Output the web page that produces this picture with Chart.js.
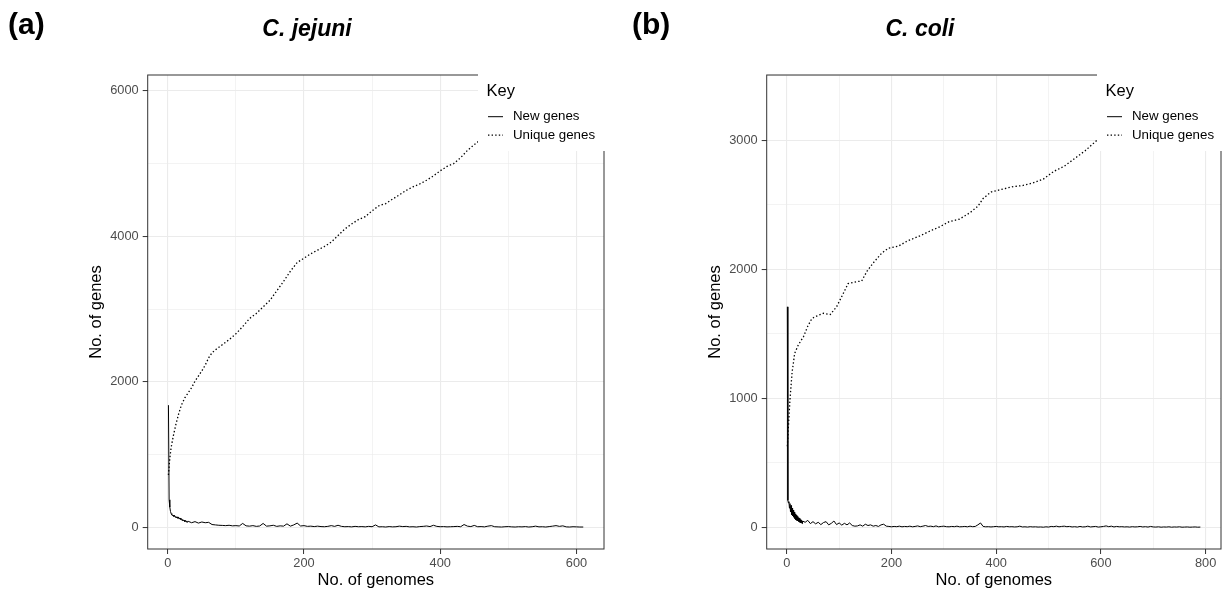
<!DOCTYPE html>
<html><head><meta charset="utf-8">
<script src="https://cdn.jsdelivr.net/npm/chart.js@4.4.1/dist/chart.umd.min.js"></script>
<style>
html,body{margin:0;padding:0;background:#fff;}
#wrap{position:relative;width:1223px;height:592px;overflow:hidden;background:#fff;}
canvas{position:absolute;top:0;}
</style></head><body>
<div id="wrap">
<canvas id="ca" width="611" height="592" style="left:0"></canvas>
<canvas id="cb" width="612" height="592" style="left:611px"></canvas>
</div>
<script>
// ---------- Panel (a) C. jejuni ----------
const aPanelTag = '(a)';
const aSpecies = 'C. jejuni';
const aNewGenomes = [1,2,3,4,5,6,7,8,9,10,11,12,13,14,15,16,17,18,19,20,21,22,23,24,25,26,27,28,29,30,
35,40,45,50,55,60,65,70,75,80,85,90,95,100,105,110,115,120,125,130,135,140,145,150,155,160,165,170,175,180,
185,190,195,200,205,210,215,220,225,230,235,240,245,250,255,260,265,270,275,280,285,290,295,300,305,310,315,320,325,330,
335,340,345,350,355,360,365,370,375,380,385,390,395,400,405,410,415,420,425,430,435,440,445,450,455,460,465,470,475,480,
485,490,495,500,505,510,515,520,525,530,535,540,545,550,555,560,565,570,575,580,585,590,595,600,605,610];
const aNewGenes = [1680,380,280,220,190,175,160,170,150,165,140,150,130,145,125,140,115,130,110,120,95,110,90,100,80,95,75,90,70,85,
65,80,60,75,65,70,40,35,30,28,25,30,22,25,20,55,22,18,25,15,20,55,18,22,30,15,22,18,50,18,
35,60,20,25,15,18,12,18,12,10,15,25,15,30,15,10,12,8,15,10,12,8,15,10,35,8,10,6,12,8,
10,18,12,15,8,10,6,12,15,20,12,30,15,10,12,8,10,12,15,10,40,18,12,28,10,12,8,18,25,10,
8,6,10,12,8,6,10,8,12,6,10,18,8,10,6,12,18,25,15,22,8,6,10,8,6,6];
const aUniqueGenomes = [1,3,5,8,12,16,20,25,30,35,40,45,50,55,60,65,70,80,90,100,110,120,130,140,150,160,170,180,190,200,
210,220,230,240,250,260,270,280,290,300,310,320,330,340,350,360,370,380,390,400,410,420,430,440,450,460,480,500,520,540,560,580,600,610];
const aUniqueGenes = [720,950,1100,1250,1420,1560,1680,1780,1850,1920,2010,2080,2150,2230,2330,2400,2440,2510,2580,2660,2760,2870,2940,3030,3120,3250,3380,3520,3640,3700,
3760,3810,3860,3920,4010,4100,4170,4230,4270,4350,4420,4450,4510,4570,4630,4680,4720,4770,4830,4900,4960,5000,5080,5180,5260,5330,5440,5540,5620,5700,5770,5840,5900,5920];
const aXTicks = [0,100,200,300,400,500,600];
const aXLabels = ['0','','200','','400','','600'];
const aYTicks = [0,1000,2000,3000,4000,5000,6000];
const aYLabels = ['0','','2000','','4000','','6000'];

// ---------- Panel (b) C. coli ----------
const bPanelTag = '(b)';
const bSpecies = 'C. coli';
const bNewGenomes = [1,2,3,4,5,6,7,8,9,10,11,12,13,14,15,16,17,18,19,20,21,22,23,24,25,26,27,28,29,30,
35,40,45,50,55,60,65,70,75,80,85,90,95,100,105,110,115,120,125,130,135,140,145,150,155,160,165,170,175,180,
185,190,195,200,205,210,215,220,225,230,235,240,245,250,255,260,265,270,275,280,285,290,295,300,305,310,315,320,325,330,
335,340,345,350,355,360,365,370,375,380,385,390,395,400,405,410,415,420,425,430,435,440,445,450,455,460,465,470,475,480,
485,490,495,500,505,510,515,520,525,530,535,540,545,550,555,560,565,570,575,580,585,590,595,600,605,610,615,620,625,630,
635,640,645,650,655,660,665,670,675,680,685,690,695,700,705,710,715,720,725,730,735,740,745,750,755,760,765,770,775,780,
785,790];
const bNewGenes = [1710,210,190,200,150,185,120,170,100,150,90,135,80,120,70,105,60,95,55,85,50,75,45,70,40,60,35,55,30,50,
40,55,30,45,28,40,22,38,45,20,32,50,22,35,18,32,20,35,15,10,12,20,10,25,15,20,10,15,8,20,
25,10,8,5,8,6,10,5,8,6,10,5,8,12,6,10,15,8,10,6,12,5,8,10,6,5,8,6,10,5,
6,8,5,10,6,8,20,35,8,5,6,4,6,8,5,6,4,8,5,6,4,5,10,4,5,3,6,4,5,3,
4,2,5,3,8,6,10,5,8,10,6,8,4,6,3,8,4,5,10,4,6,8,3,5,8,12,6,10,4,8,
5,6,4,5,3,6,4,5,8,4,6,3,8,4,3,5,2,4,3,5,2,4,3,5,2,3,4,2,3,4,
2,3];
const bUniqueGenomes = [1,3,6,10,15,22,32,40,48,58,70,83,95,108,117,133,143,153,165,181,194,213,230,254,275,292,310,330,350,365,
375,390,410,430,450,470,490,510,530,550,570,592,620,650,680,710,740,770,790];
const bUniqueGenes = [630,780,990,1200,1350,1415,1480,1560,1620,1640,1660,1650,1710,1815,1890,1905,1910,1985,2050,2125,2165,2180,2220,2260,2300,2330,2370,2390,2440,2490,
2550,2600,2620,2640,2650,2670,2700,2760,2800,2860,2920,3000,3060,3120,3170,3220,3270,3310,3340];
const bXTicks = [0,100,200,300,400,500,600,700,800];
const bXLabels = ['0','','200','','400','','600','','800'];
const bYTicks = [0,500,1000,1500,2000,2500,3000,3500];
const bYLabels = ['0','','1000','','2000','','3000',''];

const seriesLabels = ['New genes', 'Unique genes'];
const keyTitle = 'Key';
const xTitle = 'No. of genomes';
const yTitle = 'No. of genes';

const FONT = "'Liberation Sans', Arial, Helvetica, sans-serif";

function pts(xs, ys) {
  const n = Math.min(xs.length, ys.length);
  const out = [];
  for (let i = 0; i < n; i++) out.push({x: xs[i], y: ys[i]});
  return out;
}

const framePlugin = {
  id: 'panelFrame',
  afterDatasetsDraw(chart) {
    const {ctx, chartArea: a} = chart;
    ctx.save();
    ctx.strokeStyle = '#333333';
    ctx.lineWidth = 1;
    ctx.strokeRect(a.left, a.top, a.right - a.left, a.bottom - a.top);
    ctx.restore();
  }
};

const tagPlugin = {
  id: 'panelTag',
  afterDraw(chart, args, o) {
    const ctx = chart.ctx;
    ctx.save();
    ctx.fillStyle = '#000';
    ctx.font = 'bold 30px ' + FONT;
    ctx.textBaseline = 'middle';
    ctx.textAlign = 'left';
    ctx.fillText(o.text, o.x, o.y);
    ctx.restore();
  }
};

const keyPlugin = {
  id: 'keyBox',
  afterDraw(chart, args, o) {
    const {ctx, chartArea: a} = chart;
    const x0 = a.right - o.inset;
    ctx.save();
    ctx.fillStyle = '#ffffff';
    ctx.fillRect(x0, a.top - 2, chart.width - x0 + 2, 152 - a.top + 1);
    ctx.fillStyle = '#000';
    ctx.textBaseline = 'middle';
    ctx.textAlign = 'left';
    ctx.font = '16.5px ' + FONT;
    ctx.fillText(o.title, x0 + 8.5, 91.7);
    ctx.font = '13.3px ' + FONT;
    const rows = [116.7, 135.2];
    chart.data.datasets.forEach((ds, i) => {
      const y = rows[i];
      ctx.save();
      ctx.strokeStyle = ds.borderColor;
      ctx.lineWidth = ds.borderWidth;
      ctx.setLineDash(ds.borderDash || []);
      ctx.beginPath();
      ctx.moveTo(x0 + 10, y);
      ctx.lineTo(x0 + 25, y);
      ctx.stroke();
      ctx.restore();
      ctx.fillText(ds.label, x0 + 35, y);
    });
    ctx.restore();
  }
};

function labelFor(ticks, labels, v) {
  const i = ticks.indexOf(v);
  return i >= 0 ? labels[i] : '';
}

function makePanel(id, p) {
  const isMajor = (ticks, labels, v) => labelFor(ticks, labels, v) !== '';
  return new Chart(document.getElementById(id), {
    type: 'line',
    data: {
      datasets: [
        {label: seriesLabels[0], data: pts(p.newX, p.newY), borderColor: '#000000', borderWidth: 1,
         pointRadius: 0, tension: 0, fill: false},
        {label: seriesLabels[1], data: pts(p.uniqX, p.uniqY), borderColor: '#000000', borderWidth: 1.3,
         borderDash: [1.4, 2.2], pointRadius: 0, tension: 0, fill: false}
      ]
    },
    options: {
      responsive: false,
      animation: false,
      devicePixelRatio: 1,
      layout: {padding: {left: p.padLeft, right: p.padRight, top: 0, bottom: 2}},
      scales: {
        x: {
          type: 'linear', min: p.xMin, max: p.xMax,
          afterBuildTicks: s => { s.ticks = p.xTicks.map(v => ({value: v})); },
          afterFit: s => { s.height = 41; },
          border: {display: false},
          grid: {
            color: '#ebebeb',
            lineWidth: c => (c.tick && isMajor(p.xTicks, p.xLabels, c.tick.value)) ? 1.1 : 0.6,
            drawTicks: true, tickLength: 5, tickWidth: 1,
            tickColor: c => (c.tick && isMajor(p.xTicks, p.xLabels, c.tick.value)) ? '#333333' : 'rgba(0,0,0,0)'
          },
          ticks: {
            autoSkip: false, maxRotation: 0, minRotation: 0,
            padding: 2, color: '#4d4d4d', font: {family: FONT, size: 12.8},
            callback: v => labelFor(p.xTicks, p.xLabels, v)
          },
          title: {display: true, text: xTitle, color: '#000', font: {family: FONT, size: 16.5},
                  padding: {top: 0, bottom: 0}}
        },
        y: {
          type: 'linear', min: p.yMin, max: p.yMax,
          afterBuildTicks: s => { s.ticks = p.yTicks.map(v => ({value: v})); },
          afterFit: s => { s.width = p.yAxisWidth; },
          border: {display: false},
          grid: {
            color: '#ebebeb',
            lineWidth: c => (c.tick && isMajor(p.yTicks, p.yLabels, c.tick.value)) ? 1.1 : 0.6,
            drawTicks: true, tickLength: 5, tickWidth: 1,
            tickColor: c => (c.tick && isMajor(p.yTicks, p.yLabels, c.tick.value)) ? '#333333' : 'rgba(0,0,0,0)'
          },
          ticks: {
            autoSkip: false,
            padding: 4, color: '#4d4d4d', font: {family: FONT, size: 12.8},
            callback: v => labelFor(p.yTicks, p.yLabels, v)
          },
          title: {display: true, text: yTitle, color: '#000', font: {family: FONT, size: 16.5},
                  padding: {top: p.yTitlePad, bottom: 0}}
        }
      },
      plugins: {
        legend: {display: false},
        tooltip: {enabled: false},
        title: {display: true, text: p.species, color: '#000',
                font: {family: FONT, size: 23, weight: 'bold', style: 'italic'},
                padding: {top: 16, bottom: 31.4}},
        panelTag: {text: p.tag, x: p.tagX, y: 26},
        keyBox: {title: keyTitle, inset: p.keyInset}
      }
    },
    plugins: [framePlugin, tagPlugin, keyPlugin]
  });
}

makePanel('ca', {
  tag: aPanelTag, species: aSpecies, tagX: 8,
  newX: aNewGenomes, newY: aNewGenes, uniqX: aUniqueGenomes, uniqY: aUniqueGenes,
  xTicks: aXTicks, xLabels: aXLabels, yTicks: aYTicks, yLabels: aYLabels,
  xMin: -29.45, xMax: 640.45, yMin: -296, yMax: 6216,
  padLeft: 10, padRight: 7, yAxisWidth: 137.7, yTitlePad: 77, keyInset: 126
});
makePanel('cb', {
  tag: bPanelTag, species: bSpecies, tagX: 21,
  newX: bNewGenomes, newY: bNewGenes, uniqX: bUniqueGenomes, uniqY: bUniqueGenes,
  xTicks: bXTicks, xLabels: bXLabels, yTicks: bYTicks, yLabels: bYLabels,
  xMin: -38.45, xMax: 829.45, yMin: -167, yMax: 3507,
  padLeft: 8, padRight: 2, yAxisWidth: 147.7, yTitlePad: 87, keyInset: 124
});
</script>
</body></html>
